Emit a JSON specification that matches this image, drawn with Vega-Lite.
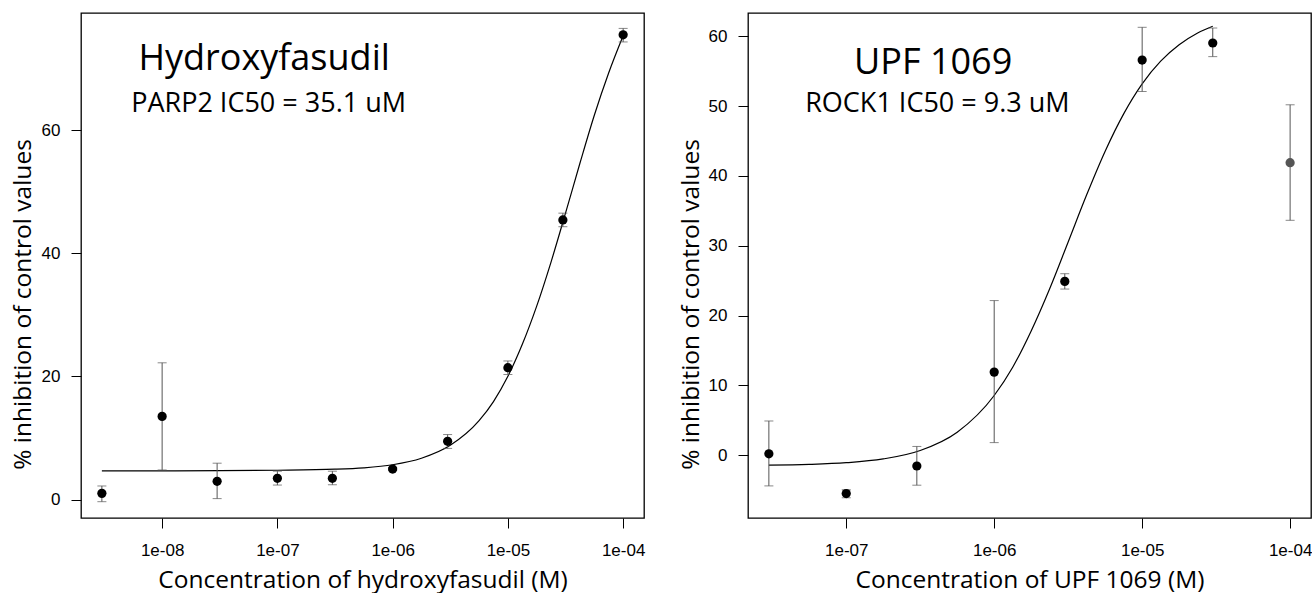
{
  "$schema": "https://vega.github.io/schema/vega-lite/v6.json",
  "padding": {"left": 9, "top": 12, "right": 0, "bottom": 0},
  "background": "white",
  "bounds": "flush",
  "spacing": 104,
  "config": {
    "view": {"stroke": "black", "strokeWidth": 1.3},
    "axis": {
      "domain": false, "grid": false,
      "tickColor": "black", "tickSize": 10, "tickWidth": 1,
      "labelFont": "Liberation Sans", "labelFontSize": 17, "labelColor": "black",
      "labelFlush": false, "labelOverlap": false, "labelBound": false,
      "titleFont": "Open Sans", "titleFontSize": 24.5, "titleFontWeight": "normal", "titleColor": "black"
    }
  },
  "datasets": {
    "hf_points": [
      {"c": 3e-9, "m": 1.0, "lo": -0.35, "hi": 2.2, "kind": "used"},
      {"c": 1e-8, "m": 13.5, "lo": 4.8, "hi": 22.2, "kind": "used"},
      {"c": 3e-8, "m": 2.95, "lo": 0.15, "hi": 5.9, "kind": "used"},
      {"c": 1e-7, "m": 3.45, "lo": 2.35, "hi": 4.6, "kind": "used"},
      {"c": 3e-7, "m": 3.45, "lo": 2.4, "hi": 4.6, "kind": "used"},
      {"c": 1e-6, "m": 4.95, "lo": 4.7, "hi": 5.2, "kind": "used"},
      {"c": 3e-6, "m": 9.45, "lo": 8.3, "hi": 10.55, "kind": "used"},
      {"c": 1e-5, "m": 21.4, "lo": 20.3, "hi": 22.5, "kind": "used"},
      {"c": 3e-5, "m": 45.4, "lo": 44.3, "hi": 46.5, "kind": "used"},
      {"c": 1e-4, "m": 75.45, "lo": 74.3, "hi": 76.5, "kind": "used"}
    ],
    "hf_curve": [
      {"c": 3e-9, "m": 4.65}, {"c": 1e-8, "m": 4.66}, {"c": 3.162e-8, "m": 4.68},
      {"c": 1e-7, "m": 4.75}, {"c": 3.162e-7, "m": 4.92}, {"c": 5.623e-7, "m": 5.15},
      {"c": 1e-6, "m": 5.65}, {"c": 1.778e-6, "m": 6.7}, {"c": 3.162e-6, "m": 8.8},
      {"c": 5.623e-6, "m": 12.8}, {"c": 7.499e-6, "m": 15.9}, {"c": 1e-5, "m": 20.0},
      {"c": 1.334e-5, "m": 25.2}, {"c": 1.778e-5, "m": 31.4}, {"c": 2.371e-5, "m": 38.6},
      {"c": 3.162e-5, "m": 46.5}, {"c": 4.217e-5, "m": 54.6}, {"c": 5.623e-5, "m": 62.4},
      {"c": 7.499e-5, "m": 69.3}, {"c": 1e-4, "m": 75.3}
    ],
    "upf_points": [
      {"c": 3e-8, "m": 0.2, "lo": -4.4, "hi": 4.9, "kind": "used"},
      {"c": 1e-7, "m": -5.5, "lo": -6.1, "hi": -4.95, "kind": "used"},
      {"c": 3e-7, "m": -1.55, "lo": -4.3, "hi": 1.25, "kind": "used"},
      {"c": 1e-6, "m": 11.9, "lo": 1.8, "hi": 22.15, "kind": "used"},
      {"c": 3e-6, "m": 24.9, "lo": 23.8, "hi": 26.0, "kind": "used"},
      {"c": 1e-5, "m": 56.6, "lo": 52.1, "hi": 61.3, "kind": "used"},
      {"c": 3e-5, "m": 59.05, "lo": 57.1, "hi": 61.2, "kind": "used"},
      {"c": 1e-4, "m": 41.9, "lo": 33.65, "hi": 50.2, "kind": "excluded"}
    ],
    "upf_curve": [
      {"c": 3e-8, "m": -1.43}, {"c": 5.623e-8, "m": -1.32}, {"c": 1e-7, "m": -1.08},
      {"c": 1.778e-7, "m": -0.54}, {"c": 3.162e-7, "m": 0.67}, {"c": 5.623e-7, "m": 3.29},
      {"c": 1e-6, "m": 8.55}, {"c": 1.334e-6, "m": 12.6}, {"c": 1.778e-6, "m": 17.8},
      {"c": 2.371e-6, "m": 23.85}, {"c": 3.162e-6, "m": 30.55}, {"c": 4.217e-6, "m": 37.3},
      {"c": 5.623e-6, "m": 43.55}, {"c": 7.499e-6, "m": 48.9}, {"c": 1e-5, "m": 53.2},
      {"c": 1.334e-5, "m": 56.45}, {"c": 1.778e-5, "m": 58.8}, {"c": 2.371e-5, "m": 60.49},
      {"c": 3e-5, "m": 61.46}
    ]
  },
  "hconcat": [
    {
      "width": 563,
      "height": 505,
      "encoding": {
        "x": {"field": "c", "type": "quantitative",
          "scale": {"type": "log", "domain": [1.977e-9, 1.517e-4], "nice": false},
          "axis": {"values": [1e-8, 1e-7, 1e-6, 1e-5, 1e-4],
            "labelExpr": "'1e-0' + (-round(log(datum.value)/LN10))",
            "labelBaseline": "alphabetic", "labelPadding": 27,
            "title": "Concentration of hydroxyfasudil (M)",
            "titleBaseline": "alphabetic", "titleY": 69}},
        "y": {"field": "m", "type": "quantitative",
          "scale": {"domain": [-3.0, 79.0], "nice": false, "zero": false},
          "axis": {"values": [0, 20, 40, 60], "labelAngle": 0, "labelPadding": 11,
            "title": "% inhibition of control values",
            "titleX": -58, "titleY": 291, "titleAlign": "center", "titleBaseline": "middle"}}
      },
      "layer": [
        {"data": {"name": "hf_curve"},
         "mark": {"type": "line", "color": "black", "strokeWidth": 1.2, "interpolate": "monotone"}},
        {"data": {"name": "hf_points"},
         "mark": {"type": "rule", "color": "#555555", "strokeWidth": 1},
         "encoding": {
           "y": {"field": "lo", "type": "quantitative", "scale": {"domain": [-3.0, 79.0], "nice": false, "zero": false}},
           "y2": {"field": "hi"}}},
        {"data": {"name": "hf_points"},
         "mark": {"type": "tick", "orient": "horizontal", "color": "#555555", "size": 9, "thickness": 1},
         "encoding": {"y": {"field": "lo", "type": "quantitative", "scale": {"domain": [-3.0, 79.0], "nice": false, "zero": false}}}},
        {"data": {"name": "hf_points"},
         "mark": {"type": "tick", "orient": "horizontal", "color": "#555555", "size": 9, "thickness": 1},
         "encoding": {"y": {"field": "hi", "type": "quantitative", "scale": {"domain": [-3.0, 79.0], "nice": false, "zero": false}}}},
        {"data": {"name": "hf_points"},
         "mark": {"type": "point", "filled": true, "opacity": 1, "size": 85, "shape": "circle"},
         "encoding": {"color": {"field": "kind", "type": "nominal",
           "scale": {"domain": ["used", "excluded"], "range": ["black", "#555555"]}, "legend": null}}},
        {"data": {"values": [{"c": 7.67e-8, "m": 69.8, "label": "Hydroxyfasudil"}]},
         "mark": {"type": "text", "font": "Open Sans", "fontSize": 36, "align": "center", "baseline": "alphabetic", "color": "black"},
         "encoding": {"text": {"field": "label"}}},
        {"data": {"values": [{"c": 8.39e-8, "m": 63.0, "label": "PARP2 IC50 = 35.1 uM"}]},
         "mark": {"type": "text", "font": "Open Sans", "fontSize": 27, "align": "center", "baseline": "alphabetic", "color": "black"},
         "encoding": {"text": {"field": "label"}}}
      ]
    },
    {
      "width": 563,
      "height": 505,
      "encoding": {
        "x": {"field": "c", "type": "quantitative",
          "scale": {"type": "log", "domain": [2.168e-8, 1.384e-4], "nice": false},
          "axis": {"values": [1e-7, 1e-6, 1e-5, 1e-4],
            "labelExpr": "'1e-0' + (-round(log(datum.value)/LN10))",
            "labelBaseline": "alphabetic", "labelPadding": 27,
            "title": "Concentration of UPF 1069 (M)",
            "titleBaseline": "alphabetic", "titleY": 69}},
        "y": {"field": "m", "type": "quantitative",
          "scale": {"domain": [-9.0, 63.35], "nice": false, "zero": false},
          "axis": {"values": [0, 10, 20, 30, 40, 50, 60], "labelAngle": 0, "labelPadding": 11,
            "title": "% inhibition of control values",
            "titleX": -57, "titleY": 291, "titleAlign": "center", "titleBaseline": "middle"}}
      },
      "layer": [
        {"data": {"name": "upf_curve"},
         "mark": {"type": "line", "color": "black", "strokeWidth": 1.2, "interpolate": "monotone"}},
        {"data": {"name": "upf_points"},
         "mark": {"type": "rule", "color": "#555555", "strokeWidth": 1},
         "encoding": {
           "y": {"field": "lo", "type": "quantitative", "scale": {"domain": [-9.0, 63.35], "nice": false, "zero": false}},
           "y2": {"field": "hi"}}},
        {"data": {"name": "upf_points"},
         "mark": {"type": "tick", "orient": "horizontal", "color": "#555555", "size": 9, "thickness": 1},
         "encoding": {"y": {"field": "lo", "type": "quantitative", "scale": {"domain": [-9.0, 63.35], "nice": false, "zero": false}}}},
        {"data": {"name": "upf_points"},
         "mark": {"type": "tick", "orient": "horizontal", "color": "#555555", "size": 9, "thickness": 1},
         "encoding": {"y": {"field": "hi", "type": "quantitative", "scale": {"domain": [-9.0, 63.35], "nice": false, "zero": false}}}},
        {"data": {"name": "upf_points"},
         "mark": {"type": "point", "filled": true, "opacity": 1, "size": 85, "shape": "circle"},
         "encoding": {"color": {"field": "kind", "type": "nominal",
           "scale": {"domain": ["used", "excluded"], "range": ["black", "#555555"]}, "legend": null}}},
        {"data": {"values": [{"c": 3.87e-7, "m": 54.6, "label": "UPF 1069"}]},
         "mark": {"type": "text", "font": "Open Sans", "fontSize": 36, "align": "center", "baseline": "alphabetic", "color": "black"},
         "encoding": {"text": {"field": "label"}}},
        {"data": {"values": [{"c": 4.13e-7, "m": 49.1, "label": "ROCK1 IC50 = 9.3 uM"}]},
         "mark": {"type": "text", "font": "Open Sans", "fontSize": 27, "align": "center", "baseline": "alphabetic", "color": "black"},
         "encoding": {"text": {"field": "label"}}}
      ]
    }
  ]
}
